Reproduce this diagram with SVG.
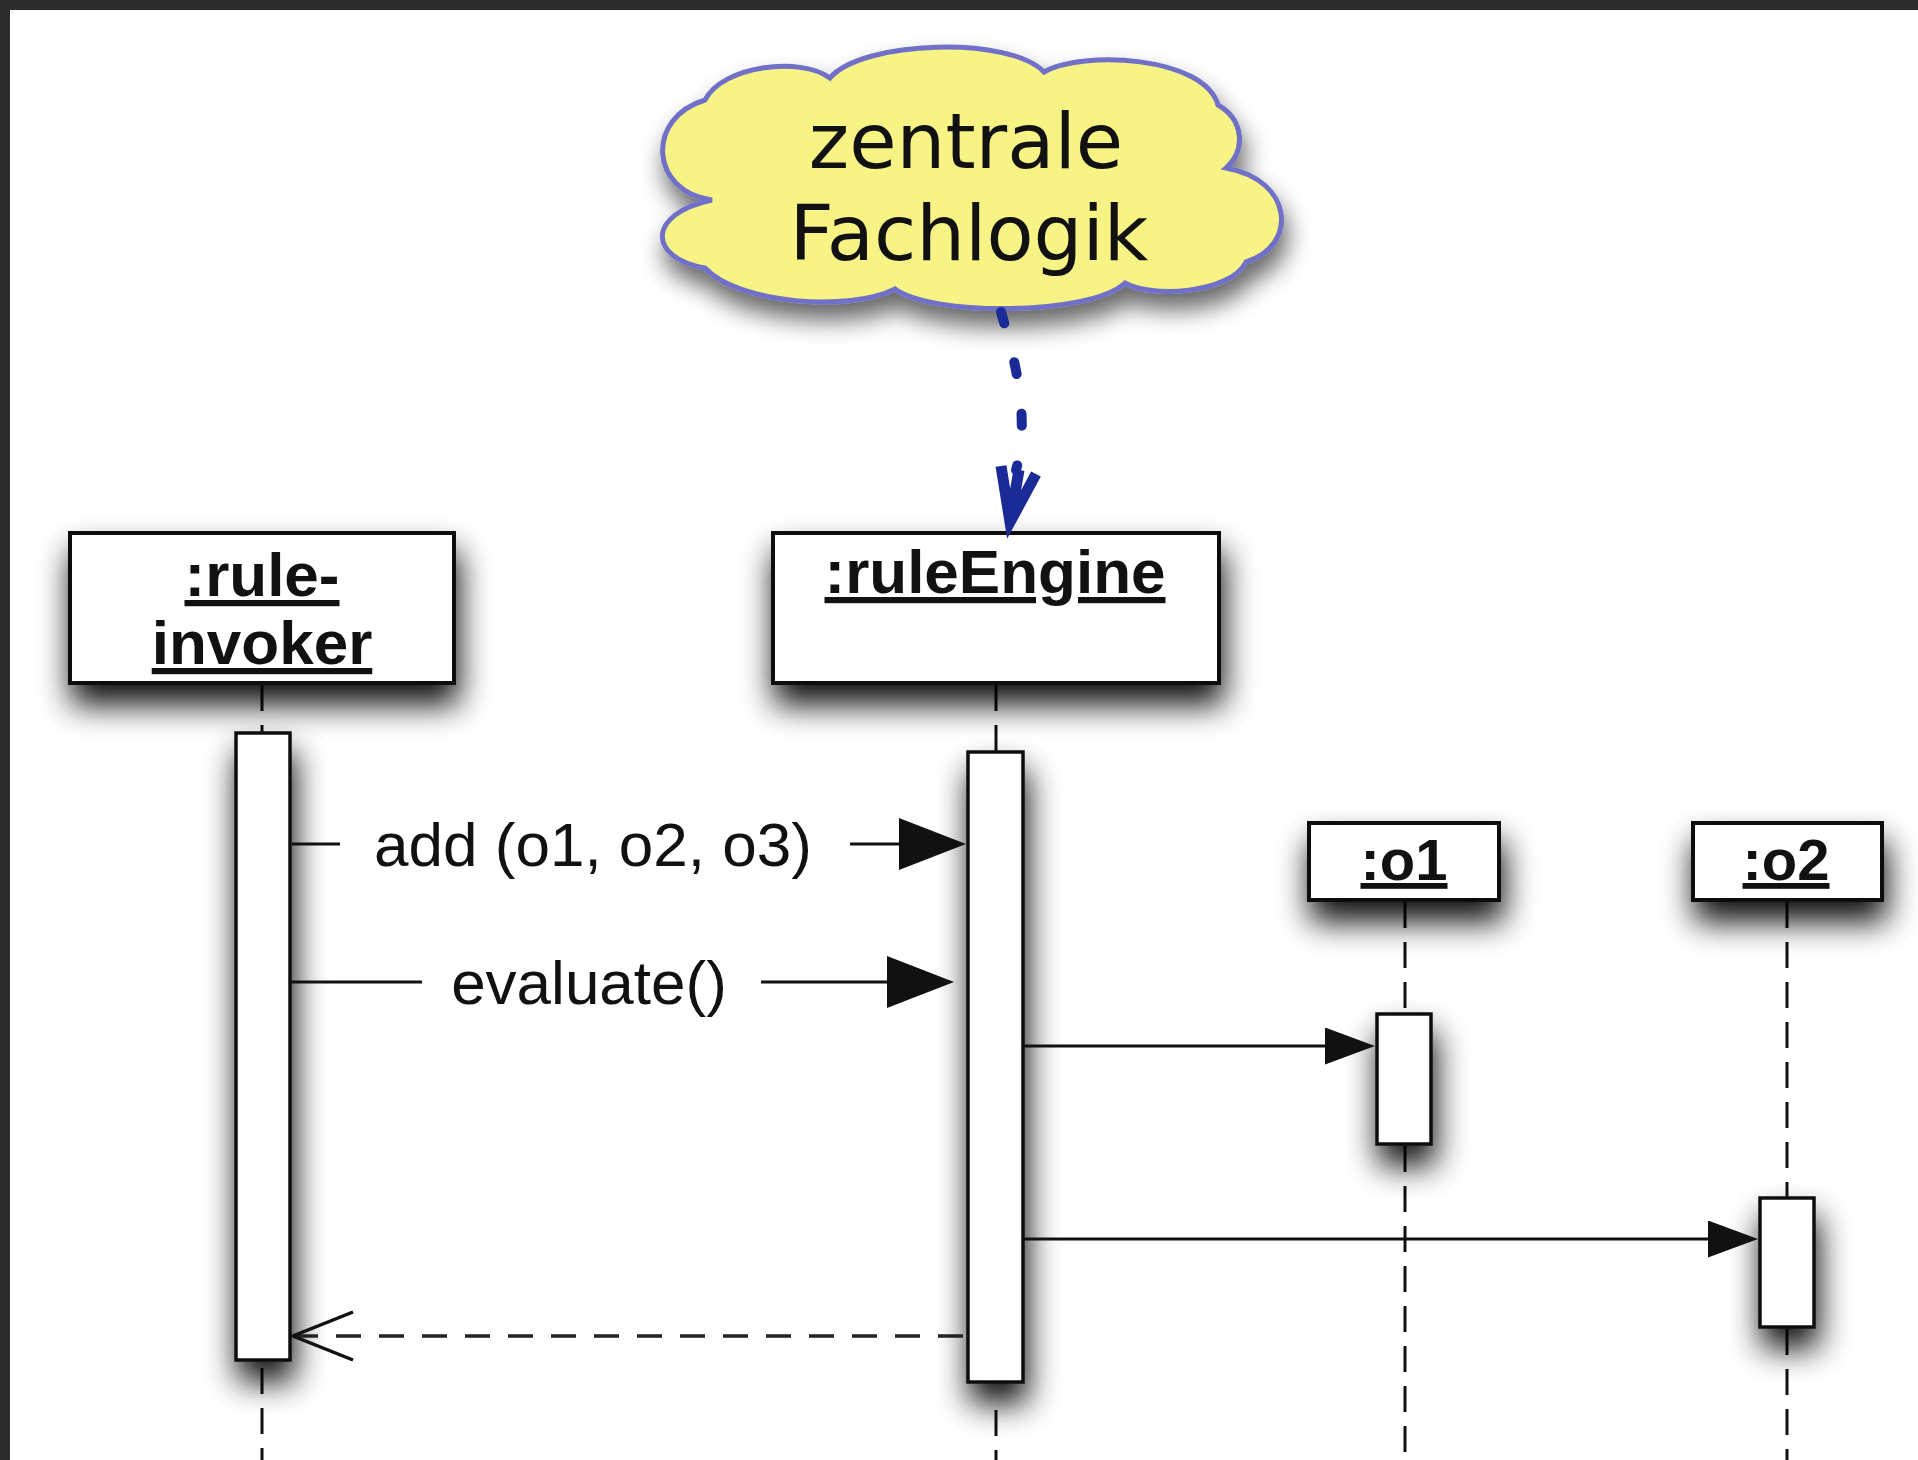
<svg xmlns="http://www.w3.org/2000/svg" width="1918" height="1460" viewBox="0 0 1918 1460">
  <style>
    .box { fill: #ffffff; stroke: #111111; stroke-width: 4; }
    .act { fill: #ffffff; stroke: #111111; stroke-width: 3.5; }
    .life { fill: none; stroke: #111111; stroke-width: 3; stroke-dasharray: 26 14; }
    .name { font-family: "Liberation Sans", Arial, sans-serif; font-weight: bold; font-size: 62px; fill: #111111; text-anchor: middle; text-decoration: underline; }
    .small { font-size: 58px; }
    .msg { fill: none; stroke: #111111; stroke-width: 3; }
    .ret { fill: none; stroke: #222222; stroke-width: 3.5; stroke-dasharray: 25 18; }
    .label { font-family: "Liberation Sans", Arial, sans-serif; font-size: 62px; fill: #111111; text-anchor: middle; }
    .cloudtext { font-family: "DejaVu Sans", Verdana, sans-serif; font-size: 77px; fill: #111111; text-anchor: middle; }
  </style>
  <defs>
    <filter id="shadow" filterUnits="userSpaceOnUse" x="0" y="0" width="1918" height="1460">
      <feGaussianBlur in="SourceAlpha" stdDeviation="16"/>
      <feOffset dx="3" dy="20"/>
      <feComponentTransfer><feFuncA type="linear" slope="0.95"/></feComponentTransfer>
      <feMerge><feMergeNode/><feMergeNode in="SourceGraphic"/></feMerge>
    </filter>
    <filter id="cloudShadow" filterUnits="userSpaceOnUse" x="0" y="0" width="1918" height="1460">
      <feGaussianBlur in="SourceAlpha" stdDeviation="12"/>
      <feOffset dx="4" dy="16"/>
      <feComponentTransfer><feFuncA type="linear" slope="0.6"/></feComponentTransfer>
      <feMerge><feMergeNode/><feMergeNode in="SourceGraphic"/></feMerge>
    </filter>
    <!-- large filled head for the labelled calls -->
    <marker id="headBig" markerUnits="userSpaceOnUse" markerWidth="70" markerHeight="54" refX="57" refY="26" orient="auto">
      <path d="M0,0 L67,26 L0,52 Z" fill="#111111"/>
    </marker>
    <!-- smaller filled head for the calls to o1 / o2 -->
    <marker id="headSmall" markerUnits="userSpaceOnUse" markerWidth="52" markerHeight="40" refX="42" refY="18.5" orient="auto">
      <path d="M0,0 L50,18.5 L0,37 Z" fill="#111111"/>
    </marker>
    <!-- open head for the return message -->
    <marker id="headOpen" markerUnits="userSpaceOnUse" markerWidth="70" markerHeight="56" refX="64" refY="27" orient="auto">
      <path d="M4,3 L64,27 L4,51" fill="none" stroke="#111111" stroke-width="3.5"/>
    </marker>
  </defs>

  <!-- page background with dark frame strip -->
  <rect x="0" y="0" width="1918" height="1460" fill="#2c2c2c"/>
  <rect x="10" y="10" width="1908" height="1450" fill="#ffffff"/>

  <!-- note cloud -->
  <g id="note-fachlogik">
    <path filter="url(#cloudShadow)" fill="#f7f384" stroke="#7070c8" stroke-width="5"
          d="M 712 200 C 650 192, 645 118, 705 100 C 722 66, 800 56, 830 78 C 862 40, 1010 36, 1044 72 C 1082 50, 1204 56, 1218 105 C 1244 120, 1246 150, 1226 168 C 1294 180, 1298 246, 1246 262 C 1230 294, 1150 298, 1125 283 C 1090 316, 930 316, 895 289 C 850 312, 738 304, 705 268 C 648 258, 646 214, 712 200 Z"/>
    <text class="cloudtext" x="966" y="168">zentrale</text>
    <text class="cloudtext" x="969" y="260">Fachlogik</text>
  </g>

  <!-- lifeline: rule-invoker -->
  <g id="rule-invoker">
    <line class="life" x1="262" y1="685" x2="262" y2="733"/>
    <line class="life" x1="262" y1="1368" x2="262" y2="1460"/>
    <rect class="box" x="70" y="533" width="384" height="150" filter="url(#shadow)"/>
    <text class="name" x="262" y="596">:rule-</text>
    <text class="name" x="262" y="664">invoker</text>
    <rect class="act" x="236" y="733" width="54" height="627" filter="url(#shadow)"/>
  </g>

  <!-- lifeline: ruleEngine -->
  <g id="rule-engine">
    <line class="life" x1="996" y1="685" x2="996" y2="752"/>
    <line class="life" x1="996" y1="1410" x2="996" y2="1460"/>
    <rect class="box" x="773" y="533" width="446" height="150" filter="url(#shadow)"/>
    <text class="name" x="995" y="593">:ruleEngine</text>
    <rect class="act" x="968" y="752" width="55" height="630" filter="url(#shadow)"/>
  </g>

  <!-- lifeline: o1 -->
  <g id="o1">
    <line class="life" x1="1405" y1="902" x2="1405" y2="1014"/>
    <line class="life" x1="1405" y1="1146" x2="1405" y2="1460"/>
    <rect class="box" x="1309" y="823" width="190" height="77" filter="url(#shadow)"/>
    <text class="name small" x="1404" y="880">:o1</text>
    <rect class="act" x="1377" y="1014" width="54" height="130" filter="url(#shadow)"/>
  </g>

  <!-- lifeline: o2 -->
  <g id="o2">
    <line class="life" x1="1787" y1="902" x2="1787" y2="1198"/>
    <line class="life" x1="1787" y1="1329" x2="1787" y2="1460"/>
    <rect class="box" x="1693" y="823" width="189" height="77" filter="url(#shadow)"/>
    <text class="name small" x="1786" y="880">:o2</text>
    <rect class="act" x="1760" y="1198" width="54" height="129" filter="url(#shadow)"/>
  </g>

  <!-- messages -->
  <g id="connectors">
    <!-- note anchor -->
    <path d="M 1001 312 C 1016 362, 1030 420, 1016 470" fill="none" stroke="#1a2a96" stroke-width="10" stroke-linecap="round" stroke-dasharray="12 40"/>
    <path d="M 1001 466 L 1010 522 L 1036 474 M 1019 470 L 1011 516" fill="none" stroke="#1a2a96" stroke-width="11" stroke-linejoin="miter" stroke-linecap="butt"/>

    <!-- add (o1, o2, o3) -->
    <line class="msg" x1="292" y1="844" x2="340" y2="844"/>
    <line class="msg" x1="850" y1="844" x2="956" y2="844" marker-end="url(#headBig)"/>
    <text class="label" x="593" y="866">add (o1, o2, o3)</text>

    <!-- evaluate() -->
    <line class="msg" x1="291" y1="982" x2="422" y2="982"/>
    <line class="msg" x1="761" y1="982" x2="944" y2="982" marker-end="url(#headBig)"/>
    <text class="label" x="589" y="1004">evaluate()</text>

    <!-- ruleEngine to o1 -->
    <line class="msg" x1="1023" y1="1046" x2="1367" y2="1046" marker-end="url(#headSmall)"/>

    <!-- ruleEngine to o2 -->
    <line class="msg" x1="1023" y1="1239" x2="1750" y2="1239" marker-end="url(#headSmall)"/>

    <!-- return to rule-invoker -->
    <line class="ret" x1="963" y1="1336" x2="293" y2="1336" marker-end="url(#headOpen)"/>
  </g>
</svg>
